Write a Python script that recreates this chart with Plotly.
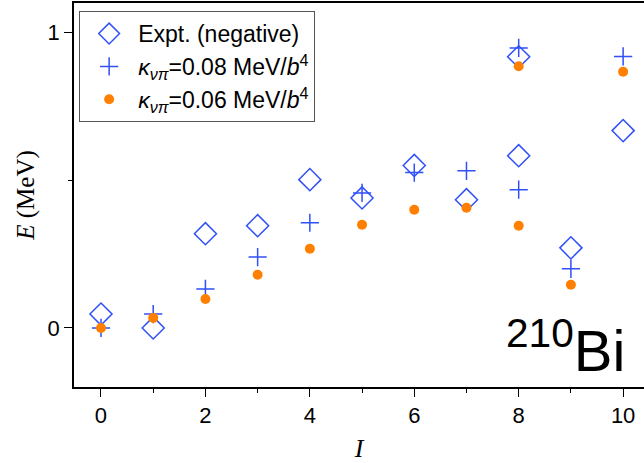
import plotly.graph_objects as go

# Data
I_expt = [0, 1, 2, 3, 4, 5, 6, 7, 8, 8, 9, 10]
E_expt = [0.047, 0.0, 0.319, 0.346, 0.502, 0.44, 0.55, 0.434, 0.918, 0.583, 0.271, 0.668]

I_k08 = [0, 1, 2, 3, 4, 5, 6, 7, 8, 8, 9, 10]
E_k08 = [0.0, 0.047, 0.132, 0.24, 0.356, 0.457, 0.526, 0.532, 0.948, 0.468, 0.2, 0.919]

I_k06 = [0, 1, 2, 3, 4, 5, 6, 7, 8, 8, 9, 10]
E_k06 = [0.0, 0.034, 0.098, 0.18, 0.268, 0.349, 0.40, 0.407, 0.886, 0.346, 0.146, 0.867]

x_ticks = [0, 2, 4, 6, 8, 10]
y_ticks = [0, 1]

BLUE = "#3050F8"
ORANGE = "#FF8000"

fig = go.Figure()
fig.add_trace(go.Scatter(
    x=I_expt, y=E_expt, mode="markers", name="Expt. (negative)",
    marker=dict(symbol="diamond-open", size=17, color=BLUE, line=dict(width=1.5, color=BLUE)),
))
fig.add_trace(go.Scatter(
    x=I_k08, y=E_k08, mode="markers",
    name="<i>κ<sub>νπ</sub></i>=0.08 MeV/<i>b</i><sup>4</sup>",
    marker=dict(symbol="cross-thin-open", size=13, color=BLUE, line=dict(width=1.5, color=BLUE)),
))
fig.add_trace(go.Scatter(
    x=I_k06, y=E_k06, mode="markers",
    name="<i>κ<sub>νπ</sub></i>=0.06 MeV/<i>b</i><sup>4</sup>",
    marker=dict(symbol="circle", size=10, color=ORANGE, line=dict(width=0)),
))

axis_font = dict(family="Liberation Sans, Arial", size=22, color="black")

fig.update_layout(
    width=644, height=463,
    margin=dict(l=74, r=0, t=3, b=76),
    paper_bgcolor="white", plot_bgcolor="white",
    showlegend=True,
    legend=dict(
        x=0.009, y=0.979, xanchor="left", yanchor="top",
        bordercolor="#555555", borderwidth=1, bgcolor="white",
        font=dict(family="Liberation Sans, Arial", size=23, color="black"),
        itemsizing="trace", itemwidth=48,
    ),
    xaxis=dict(
        range=[-0.517, 10.40], tickvals=x_ticks, ticktext=[str(v) for v in x_ticks],
        ticks="outside", ticklen=8, tickwidth=1.3, tickcolor="black",
        minor=dict(dtick=1, tick0=0, ticks="outside", ticklen=4, tickwidth=1.3, tickcolor="black", showgrid=False),
        showline=True, linecolor="black", linewidth=1.5, mirror=True,
        showgrid=False, zeroline=False, tickfont=axis_font, automargin=False,
        title=dict(text="<i>I</i>", font=dict(family="Liberation Serif, Times New Roman", size=26, color="black"), standoff=26),
    ),
    yaxis=dict(
        range=[-0.2, 1.1], tickvals=y_ticks, ticktext=[str(v) for v in y_ticks],
        ticks="outside", ticklen=8, tickwidth=1.3, tickcolor="black",
        minor=dict(dtick=0.5, tick0=0, ticks="outside", ticklen=4, tickwidth=1.3, tickcolor="black", showgrid=False),
        showline=True, linecolor="black", linewidth=1.5, mirror=False,
        showgrid=False, zeroline=False, tickfont=axis_font, automargin=False,
        title=dict(text="<i>E</i> (MeV)", font=dict(family="Liberation Serif, Times New Roman", size=25, color="black"), standoff=6),
    ),
    annotations=[dict(
        text="<sup>210</sup>Bi", xref="paper", yref="paper",
        x=0.97, y=0.004, xanchor="right", yanchor="bottom", showarrow=False,
        font=dict(family="Liberation Sans, Arial", size=58, color="black"),
    )],
)

fig.write_html("out.html")
